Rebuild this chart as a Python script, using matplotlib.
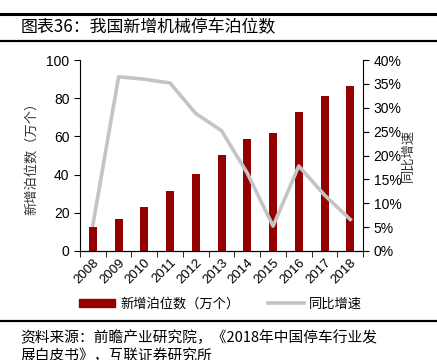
import matplotlib.pyplot as plt
import matplotlib.lines as mlines
import matplotlib.patches as mpatches
from matplotlib.ticker import FuncFormatter

plt.rcParams['font.family'] = ['Liberation Sans', 'Noto Sans CJK SC', 'DejaVu Sans']

years = ['2008', '2009', '2010', '2011', '2012', '2013', '2014', '2015', '2016', '2017', '2018']
new_spaces = [12.3, 16.8, 23.0, 31.2, 40.3, 50.4, 58.5, 61.6, 72.8, 81.2, 86.6]  # 万个
growth = [5.4, 36.5, 36.0, 35.2, 28.8, 25.2, 16.3, 5.2, 17.8, 11.7, 6.6]  # %

bar_color = '#950000'
line_color = '#C4C4C4'
cjk = ['Noto Sans CJK SC', 'DejaVu Sans']

fig = plt.figure(figsize=(4.37, 3.6), dpi=100)
ax = fig.add_axes([0.183, 0.303, 0.648, 0.530])
ax2 = ax.twinx()

x = range(len(years))
ax.bar(x, new_spaces, width=0.31, color=bar_color, zorder=2)
ax2.plot(x, growth, color=line_color, linewidth=2.6, zorder=3)

ax.set_xlim(-0.5, len(years) - 0.5)
ax.set_ylim(0, 100)
ax.set_yticks(range(0, 101, 20))
ax2.set_ylim(0, 40)
ax2.set_yticks(range(0, 41, 5))
ax2.yaxis.set_major_formatter(FuncFormatter(lambda v, p: f'{v:.0f}%'))

# category labels at centres, tick marks at boundaries
ax.set_xticks(list(x))
ax.set_xticklabels(years, rotation=45, ha='right', rotation_mode='anchor', fontsize=9.5)
ax.tick_params(axis='x', length=0, pad=4)
ax.set_xticks([i + 0.5 for i in range(-1, len(years))], minor=True)
ax.tick_params(axis='x', which='minor', length=4, direction='out')

ax.tick_params(axis='y', labelsize=10, length=4, direction='out')
ax2.tick_params(axis='y', labelsize=10, length=4, direction='out')

for a in (ax, ax2):
    a.spines['top'].set_visible(False)
ax.spines['right'].set_visible(False)
ax2.spines['left'].set_visible(False)

ax.set_ylabel('新增泊位数（万个）', family=cjk, fontsize=9.5, color='#333333', labelpad=6)
ax2.set_ylabel('同比增速', family=cjk, fontsize=9.5, color='#333333', labelpad=0)

# legend
handles = [mpatches.Patch(color=bar_color, label='新增泊位数（万个）'),
           mlines.Line2D([], [], color=line_color, linewidth=2.6, label='同比增速')]
fig.legend(handles=handles, loc='center', bbox_to_anchor=(0.505, 0.155), ncol=2, frameon=False,
           prop={'family': cjk, 'size': 9.5}, handlelength=2.7, handleheight=0.5,
           columnspacing=2.2, handletextpad=0.4)

# title bar
fig.add_artist(mlines.Line2D([0.0, 1.0], [1 - 14 / 360] * 2, color='black', linewidth=2.2))
fig.add_artist(mlines.Line2D([0.0, 1.0], [1 - 41 / 360] * 2, color='black', linewidth=1.6))
fig.text(0.046, 1 - 27 / 360, '图表36：我国新增机械停车泊位数', family=cjk, fontsize=12.2,
         va='center', ha='left')

# source
fig.add_artist(mlines.Line2D([0.0, 1.0], [1 - 321 / 360] * 2, color='black', linewidth=1.6))
fig.text(0.046, 1 - 338 / 360, '资料来源：前瞻产业研究院，《2018年中国停车行业发',
         family=cjk, fontsize=10.6, style='italic', va='center', ha='left')
fig.text(0.046, 1 - 356 / 360, '展白皮书》，互联证券研究所',
         family=cjk, fontsize=10.6, style='italic', va='center', ha='left')

fig.savefig('out.png', dpi=100)
